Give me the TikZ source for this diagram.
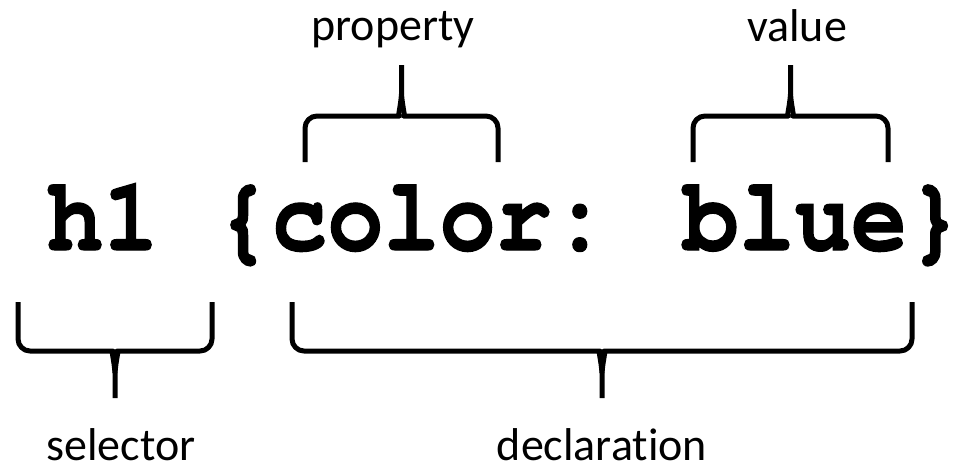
\documentclass[tikz,border=0pt]{standalone}
\usepackage{fontspec}
\setmainfont{Carlito}[Ligatures=NoCommon]
\newfontfamily\codefont{texgyrecursor-bold.otf}[FakeBold=1.2]
\tikzset{
  bracestroke/.style={line width=5pt, line join=round, line cap=butt, black},
  codetext/.style={inner sep=0pt, anchor=base, font=\codefont\fontsize{93.5}{100}\selectfont},
  labeltext/.style={inner sep=0pt, anchor=base, font=\fontsize{46}{50}\selectfont},
}
% #1 left x, #2 right x, #3 end y, #4 horizontal y, #5 tip y, #6 direction (+1 tip downward, -1 tip upward)
\newcommand\mybrace[6]{%
  \pgfmathsetmacro\bcx{(#1+#2)/2}%
  \draw[bracestroke] (#1,#3) [rounded corners=12pt] -- (#1,#4) -- ({\bcx-14},#4) [sharp corners]
     .. controls ({\bcx-4},#4) and ({\bcx-1},{#4+#6*8}) .. (\bcx,{#4+#6*22}) -- (\bcx,#5);
  \draw[bracestroke] (#2,#3) [rounded corners=12pt] -- (#2,#4) -- ({\bcx+14},#4) [sharp corners]
     .. controls ({\bcx+4},#4) and ({\bcx+1},{#4+#6*8}) .. (\bcx,{#4+#6*22});
}
\begin{document}
\begin{tikzpicture}[x=1pt,y=-1pt]
\useasboundingbox (0,0) rectangle (965,472);
\node[codetext] (code) at (505,250) {\scalebox{1}[1.12]{h1 \{color: blue\}}};
\node[labeltext] (property) at (393,40) {property};
\node[labeltext] (value) at (797,41) {value};
\node[labeltext] (selector) at (121,460) {selector};
\node[labeltext] (declaration) at (602,460) {declaration};
\mybrace{305}{498}{162}{116}{65}{-1}
\mybrace{693}{888}{162}{116}{65}{-1}
\mybrace{18}{212}{302}{351}{398}{1}
\mybrace{292}{912}{302}{351}{398}{1}
\end{tikzpicture}
\end{document}
